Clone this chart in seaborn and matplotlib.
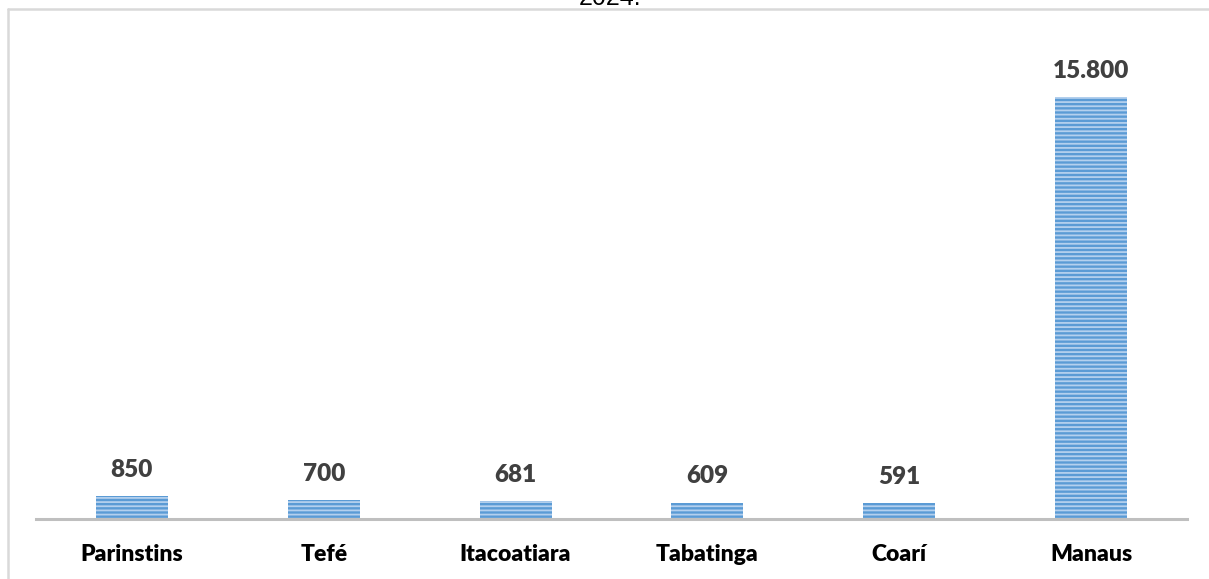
import matplotlib
matplotlib.use("Agg")
import matplotlib.pyplot as plt
import seaborn as sns
import pandas as pd
from matplotlib.lines import Line2D

municipios = ["Parinstins", "Tefé", "Itacoatiara", "Tabatinga", "Coarí", "Manaus"]
valores = [850, 700, 681, 609, 591, 15800]
rotulos = ["850", "700", "681", "609", "591", "15.800"]

df = pd.DataFrame({"municipio": municipios, "valor": valores})

sns.set_style("white")
plt.rcParams["hatch.linewidth"] = 1.3
plt.rcParams["hatch.color"] = "#B4D0EE"

W, H = 1209, 579
fig = plt.figure(figsize=(W / 100, H / 100), dpi=100)
ax = fig.add_axes([36 / W, 1 - 519 / H, (1187 - 36) / W, (519 - 30) / H])

sns.barplot(data=df, x="municipio", y="valor", color="#5B9BD5", width=0.375,
            saturation=1, ax=ax)
for p in ax.patches:
    p.set_hatch("----")
    p.set_edgecolor("#B4D0EE")
    p.set_linewidth(0)

ax.set_ylim(0, 15800 * 489 / 422)
ax.set_xlim(-0.5, len(municipios) - 0.5)
ax.set_yticks([])
ax.set_xlabel("")
ax.set_ylabel("")
for s in ["left", "right", "top"]:
    ax.spines[s].set_visible(False)
ax.spines["bottom"].set_color("#BFBFBF")
ax.spines["bottom"].set_linewidth(2.2)
ax.tick_params(axis="x", length=0, pad=18)
for t in ax.get_xticklabels():
    t.set_fontfamily("Lato")
    t.set_fontweight("heavy")
    t.set_fontsize(16.5)
    t.set_color("#000000")

for i, (v, lab) in enumerate(zip(valores, rotulos)):
    ax.annotate(lab, (i, v), xytext=(0, 11), textcoords="offset points",
                ha="center", va="bottom", fontfamily="Lato", fontweight="heavy",
                fontsize=17.5, color="#404040")

# outer frame of the chart area (left and top edges)
frame = dict(color="#D9D9D9", linewidth=1.8, transform=fig.transFigure, zorder=0)
fig.add_artist(Line2D([7.5 / W, 7.5 / W], [0, 1 - 8.5 / H], **frame))
fig.add_artist(Line2D([7.5 / W, 1.0], [1 - 8.5 / H, 1 - 8.5 / H], **frame))

fig.text(610 / W, 1 + 2 / H, "2024.", ha="center", va="center",
         fontfamily="Liberation Sans", fontsize=18, color="#000000")

fig.savefig("out.png", dpi=100)
